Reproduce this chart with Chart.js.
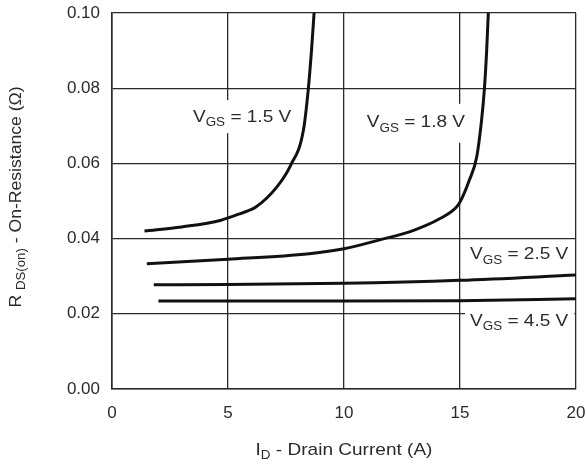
<!DOCTYPE html>
<html>
<head>
<meta charset="utf-8">
<script src="https://cdn.jsdelivr.net/npm/chart.js@4/dist/chart.umd.min.js"></script>
<style>
  html, body { margin: 0; padding: 0; background: #fff; }
  #wrap { width: 586px; height: 464px; }
</style>
</head>
<body>
<div id="wrap"><canvas id="rdsChart" width="586" height="464"></canvas></div>
<script>
// ---- curve data: drain current (A) vs on-resistance (ohm) ----
const id15 = [1.4, 3.0, 4.7, 5.5, 6.2, 7.1, 7.7, 8.25, 8.46, 8.6, 8.71];
const r15 = [0.0420, 0.0431, 0.0449, 0.0466, 0.0484, 0.0537, 0.0595, 0.0688, 0.0797, 0.0901, 0.1000];

const id18 = [1.5, 5.0, 8.5, 10.0, 11.5, 13.0, 14.1, 14.85, 15.05, 15.4, 15.72, 15.93, 16.05, 16.15, 16.22];
const r18 = [0.0333, 0.0345, 0.0360, 0.0373, 0.0396, 0.0422, 0.0452, 0.0484, 0.0503, 0.0555, 0.0617, 0.0715, 0.0797, 0.0901, 0.1000];

const id25 = [1.8, 5, 10, 15, 20];
const r25 = [0.0277, 0.0278, 0.0281, 0.0289, 0.0303];

const id45 = [2.0, 5, 10, 15, 20];
const r45 = [0.0234, 0.0234, 0.0234, 0.0235, 0.0240];

const gateVolts = ["1.5", "1.8", "2.5", "4.5"];

// axis ranges / ticks
const xTicks = [0, 5, 10, 15, 20];
const yTicks = [0.00, 0.02, 0.04, 0.06, 0.08, 0.10];

const FONT = "'Liberation Sans', Arial, Helvetica, sans-serif";
const INK = "#2b2b2b";

function toPoints(xs, ys) {
  return xs.map((x, i) => ({ x: x, y: ys[i] }));
}

const curveStyle = {
  borderColor: "#111",
  borderWidth: 3,
  pointRadius: 0,
  showLine: true,
  fill: false,
  cubicInterpolationMode: "monotone",
};

// label anchors (left edge, vertical centre) in data units
const labelPos = [
  { x: 3.49, y: 0.0723, padL: 4, padR: 3, up: 17, down: 16 },
  { x: 10.98, y: 0.0708, padL: 4, padR: 3, up: 19, down: 20 },
  { x: 15.43, y: 0.0357, padL: 4, padR: 3, up: 10, down: 10 },
  { x: 15.43, y: 0.0179, padL: 5, padR: 6, up: 10, down: 12 },
];

// draws text made of [text, isSubscript] runs, horizontally stretched a bit
function runsWidth(ctx, runs, size, subSize) {
  let w = 0;
  runs.forEach(([t, sub]) => {
    ctx.font = (sub ? subSize : size) + "px " + FONT;
    w += ctx.measureText(t).width;
  });
  return w;
}

function drawRuns(ctx, runs, x, y, size, subSize, stretch) {
  ctx.save();
  ctx.translate(x, y);
  ctx.scale(stretch, 1);
  ctx.fillStyle = INK;
  ctx.textBaseline = "middle";
  ctx.textAlign = "left";
  let cx = 0;
  runs.forEach(([t, sub]) => {
    ctx.font = (sub ? subSize : size) + "px " + FONT;
    ctx.fillText(t, cx, sub ? size * 0.32 : 0);
    cx += ctx.measureText(t).width;
  });
  ctx.restore();
}

const textPlugin = {
  id: "textPlugin",
  beforeDatasetsDraw(chart) {
    const ctx = chart.ctx;
    const area = chart.chartArea;
    const xs = chart.scales.x, ys = chart.scales.y;
    const stretch = 1.12;
    gateVolts.forEach((v, i) => {
      const p = labelPos[i];
      const runs = [["V", false], ["GS", true], [" = " + v + " V", false]];
      const w = runsWidth(ctx, runs, 17, 12) * stretch;
      const px = xs.getPixelForValue(p.x);
      const py = ys.getPixelForValue(p.y);
      const boxL = px - p.padL;
      const boxR = Math.min(px + w + p.padR, area.right - 1);
      ctx.save();
      ctx.fillStyle = "#fff";
      ctx.fillRect(boxL, py - p.up, boxR - boxL, p.up + p.down);
      ctx.restore();
      drawRuns(ctx, runs, px, py, 17, 12, stretch);
    });
  },
  afterDraw(chart) {
    const ctx = chart.ctx;
    const area = chart.chartArea;

    // x-axis title
    const xRuns = [["I", false], ["D", true], [" - Drain Current (A)", false]];
    const xw = runsWidth(ctx, xRuns, 17, 12) * 1.12;
    drawRuns(ctx, xRuns, (area.left + area.right) / 2 - xw / 2, 450, 17, 12, 1.12);

    // y-axis title (rotated)
    const yRuns = [["R ", false], ["DS(on)", true], [" - On-Resistance (\u03A9)", false]];
    const yw = runsWidth(ctx, yRuns, 16, 12) * 1.1;
    ctx.save();
    ctx.translate(17, (area.top + area.bottom) / 2 - 4);
    ctx.rotate(-Math.PI / 2);
    drawRuns(ctx, yRuns, -yw / 2, 0, 16, 12, 1.1);
    ctx.restore();
  },
};

new Chart(document.getElementById("rdsChart").getContext("2d"), {
  type: "scatter",
  data: {
    datasets: [
      { label: "VGS = 1.5 V", data: toPoints(id15, r15), ...curveStyle },
      { label: "VGS = 1.8 V", data: toPoints(id18, r18), ...curveStyle },
      { label: "VGS = 2.5 V", data: toPoints(id25, r25), ...curveStyle },
      { label: "VGS = 4.5 V", data: toPoints(id45, r45), ...curveStyle },
    ],
  },
  options: {
    responsive: false,
    animation: false,
    layout: { padding: { top: 13, right: 10, left: 0, bottom: 0 } },
    plugins: {
      legend: { display: false },
      tooltip: { enabled: false },
    },
    scales: {
      x: {
        type: "linear",
        min: xTicks[0],
        max: xTicks[xTicks.length - 1],
        afterBuildTicks: (s) => { s.ticks = xTicks.map((v) => ({ value: v })); },
        afterFit: (s) => {
          s.height = 75;
          s.paddingLeft = 0;
          s.paddingRight = 0;
        },
        grid: { color: "#2a2a2a", lineWidth: 1.3, drawTicks: false },
        border: { display: true, color: "#2a2a2a", width: 1.6 },
        ticks: {
          color: INK,
          padding: 14,
          font: { family: FONT, size: 17 },
          maxRotation: 0,
        },
      },
      y: {
        type: "linear",
        min: yTicks[0],
        max: yTicks[yTicks.length - 1],
        afterBuildTicks: (s) => { s.ticks = yTicks.map((v) => ({ value: v })); },
        afterFit: (s) => {
          s.width = 112;
          s.paddingTop = 0;
          s.paddingBottom = 0;
        },
        grid: { color: "#2a2a2a", lineWidth: 1.3, drawTicks: false },
        border: { display: true, color: "#2a2a2a", width: 1.6 },
        ticks: {
          color: INK,
          padding: 12,
          font: { family: FONT, size: 17 },
          callback: (v) => v.toFixed(2),
        },
      },
    },
  },
  plugins: [textPlugin],
});
</script>
</body>
</html>
